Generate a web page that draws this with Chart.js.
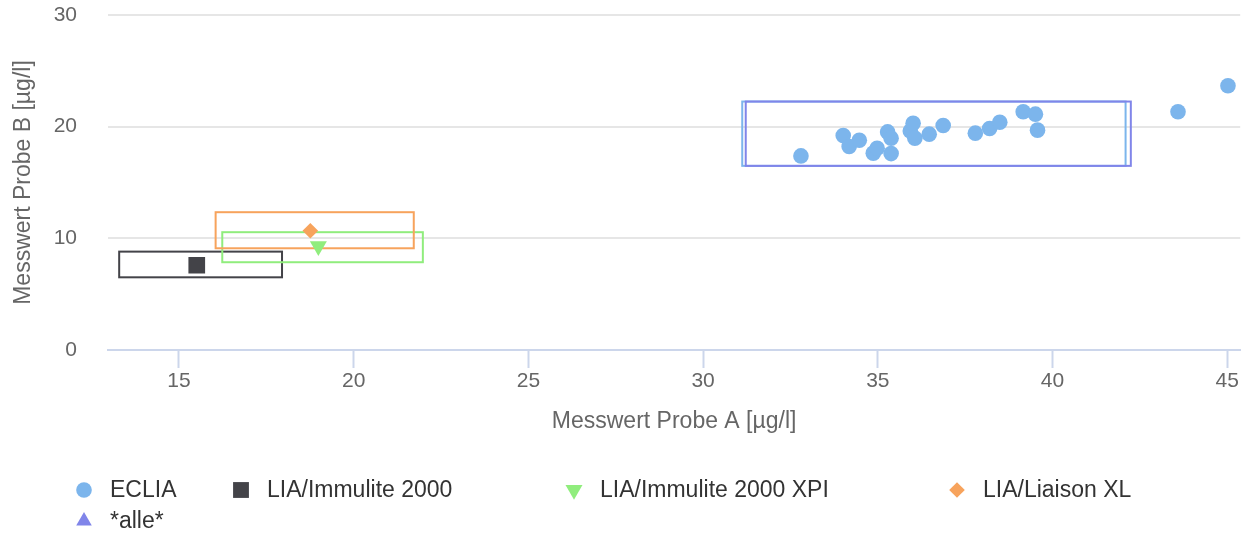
<!DOCTYPE html>
<html lang="de">
<head>
<meta charset="utf-8">
<title>Messwert Probe A / Probe B</title>
<script src="https://cdn.jsdelivr.net/npm/chart.js@4/dist/chart.umd.min.js"></script>
<style>
  html, body { margin: 0; padding: 0; background: #fff; }
  #wrap { width: 1252px; height: 540px; position: relative; }
</style>
</head>
<body>
<div id="wrap"><canvas id="chart"></canvas></div>
<script>
// ─── DATA ─────────────────────────────────────────────────────
const seriesNames = ['ECLIA', 'LIA/Immulite 2000', 'LIA/Immulite 2000 XPI', 'LIA/Liaison XL', '*alle*'];

// Probe A / Probe B per method
const ecliaA = [32.80, 34.01, 34.18, 34.47, 34.87, 34.98, 35.28, 35.38, 35.38, 35.93, 36.01,
                36.06, 36.47, 36.87, 37.79, 38.20, 38.49, 39.16, 39.51, 39.57, 43.59, 45.02];
const ecliaB = [17.38, 19.20, 18.22, 18.79, 17.63, 18.07, 19.53, 18.97, 17.59, 19.62, 20.31,
                18.97, 19.33, 20.10, 19.42, 19.83, 20.40, 21.33, 21.12, 19.69, 21.33, 23.66];
const immuliteA = [15.51];
const immuliteB = [7.59];
const xpiA = [18.99];
const xpiB = [9.30];
const liaisonA = [18.76];
const liaisonB = [10.68];
const alleA = [];
const alleB = [];

// Range boxes per method (same order as seriesNames)
const boxALow  = [31.12, 13.29, 16.24, 16.05, 31.22];
const boxAHigh = [42.09, 17.95, 21.98, 21.72, 42.24];
const boxBLow  = [16.49,  6.51,  7.86,  9.11, 16.49];
const boxBHigh = [22.25,  8.81, 10.55, 12.34, 22.25];

// Axes
const xTicks = [15, 20, 25, 30, 35, 40, 45];
const yTicks = [0, 10, 20, 30];
const xMin = 12.97, xMax = 45.37;
const yMin = 0, yMax = 30;

// ─── STYLE ────────────────────────────────────────────────────
const colors = ['#7cb5ec', '#434348', '#90ed7d', '#f7a35c', '#8085e9'];
const FONT = "'Liberation Sans', Arial, Helvetica, sans-serif";

const markers = [
  { pointStyle: 'circle',   radius: 7.8, rotation: 0 },
  { pointStyle: 'rect',     radius: 11.8, rotation: 0 },
  { pointStyle: 'triangle', radius: 9.8, rotation: 180 },
  { pointStyle: 'rectRot',  radius: 7.8, rotation: 0 },
  { pointStyle: 'triangle', radius: 9.0, rotation: 0 }
];

// legend item anchors (marker centre), two rows
const legendX = [84, 241, 574, 957, 84];
const legendY = [490, 490, 490, 490, 521];

const pairs = (a, b) => a.map((v, i) => ({ x: v, y: b[i] }));
const seriesData = [
  pairs(ecliaA, ecliaB),
  pairs(immuliteA, immuliteB),
  pairs(xpiA, xpiB),
  pairs(liaisonA, liaisonB),
  pairs(alleA, alleB)
];

const datasets = seriesNames.map((name, i) => ({
  label: name,
  data: seriesData[i],
  backgroundColor: colors[i],
  borderColor: colors[i],
  borderWidth: 0,
  pointStyle: markers[i].pointStyle,
  pointRadius: markers[i].radius,
  pointRotation: markers[i].rotation,
  pointHoverRadius: markers[i].radius,
  box: [boxALow[i], boxAHigh[i], boxBLow[i], boxBHigh[i]]
}));

// ─── RANGE BOXES (drawn under the markers) ───────────────────
const rangeBoxes = {
  id: 'rangeBoxes',
  beforeDatasetsDraw(chart) {
    const { ctx, scales: { x, y } } = chart;
    ctx.save();
    ctx.lineWidth = 2;
    chart.data.datasets.forEach(ds => {
      const [a0, a1, b0, b1] = ds.box;
      const left = x.getPixelForValue(a0), right = x.getPixelForValue(a1);
      const top = y.getPixelForValue(b1), bottom = y.getPixelForValue(b0);
      ctx.strokeStyle = ds.borderColor;
      ctx.strokeRect(left, top, right - left, bottom - top);
    });
    ctx.restore();
  }
};

// ─── LEGEND ───────────────────────────────────────────────────
const fixedLegend = {
  id: 'fixedLegend',
  afterDraw(chart) {
    const { ctx } = chart;
    ctx.save();
    chart.data.datasets.forEach((ds, i) => {
      const mx = legendX[i], my = legendY[i];
      ctx.fillStyle = ds.backgroundColor;
      ctx.strokeStyle = ds.borderColor;
      Chart.helpers.drawPoint(ctx, {
        pointStyle: ds.pointStyle,
        rotation: ds.pointRotation,
        radius: i === 1 ? 11.2 : ds.pointRadius,
        borderWidth: 0
      }, mx, my);
      ctx.fillStyle = '#333333';
      ctx.font = `23px ${FONT}`;
      ctx.textBaseline = 'middle';
      ctx.textAlign = 'left';
      ctx.fillText(ds.label, mx + 26, my + 1);
    });
    ctx.restore();
  }
};

// ─── CHART ────────────────────────────────────────────────────
new Chart(document.getElementById('chart'), {
  type: 'scatter',
  data: { datasets },
  plugins: [rangeBoxes, fixedLegend],
  options: {
    responsive: true,
    maintainAspectRatio: false,
    animation: false,
    events: [],
    layout: { padding: { top: 15, right: 10, bottom: 100, left: 0 } },
    plugins: {
      legend: { display: false },
      tooltip: { enabled: false }
    },
    scales: {
      x: {
        type: 'linear',
        min: xMin,
        max: xMax,
        afterBuildTicks: s => { s.ticks = xTicks.map(v => ({ value: v })); },
        afterFit: s => { s.height = 90; },
        grid: {
          color: 'rgba(0,0,0,0)',
          drawTicks: true,
          tickLength: 18,
          tickWidth: 2,
          tickColor: '#ccd6eb'
        },
        border: { display: true, color: '#ccd6eb', width: 2 },
        ticks: {
          color: '#666666',
          padding: 1,
          maxRotation: 0,
          font: { family: FONT, size: 21 }
        },
        title: {
          display: true,
          text: 'Messwert Probe A [µg/l]',
          color: '#666666',
          font: { family: FONT, size: 23 },
          padding: { top: 0, bottom: 5 }
        }
      },
      y: {
        type: 'linear',
        min: yMin,
        max: yMax,
        afterBuildTicks: s => { s.ticks = yTicks.map(v => ({ value: v })); },
        afterFit: s => { s.width = 108; },
        grid: {
          color: '#e6e6e6',
          lineWidth: 2,
          // invisible tick marks keep the labels clear of the plot
          drawTicks: true,
          tickLength: 31,
          tickColor: 'rgba(0,0,0,0)'
        },
        border: { display: false },
        ticks: {
          color: '#666666',
          padding: 0,
          font: { family: FONT, size: 21 }
        },
        title: {
          display: true,
          text: 'Messwert Probe B [µg/l]',
          color: '#666666',
          font: { family: FONT, size: 23 },
          padding: { top: 10, bottom: 0 }
        }
      }
    }
  }
});
</script>
</body>
</html>
